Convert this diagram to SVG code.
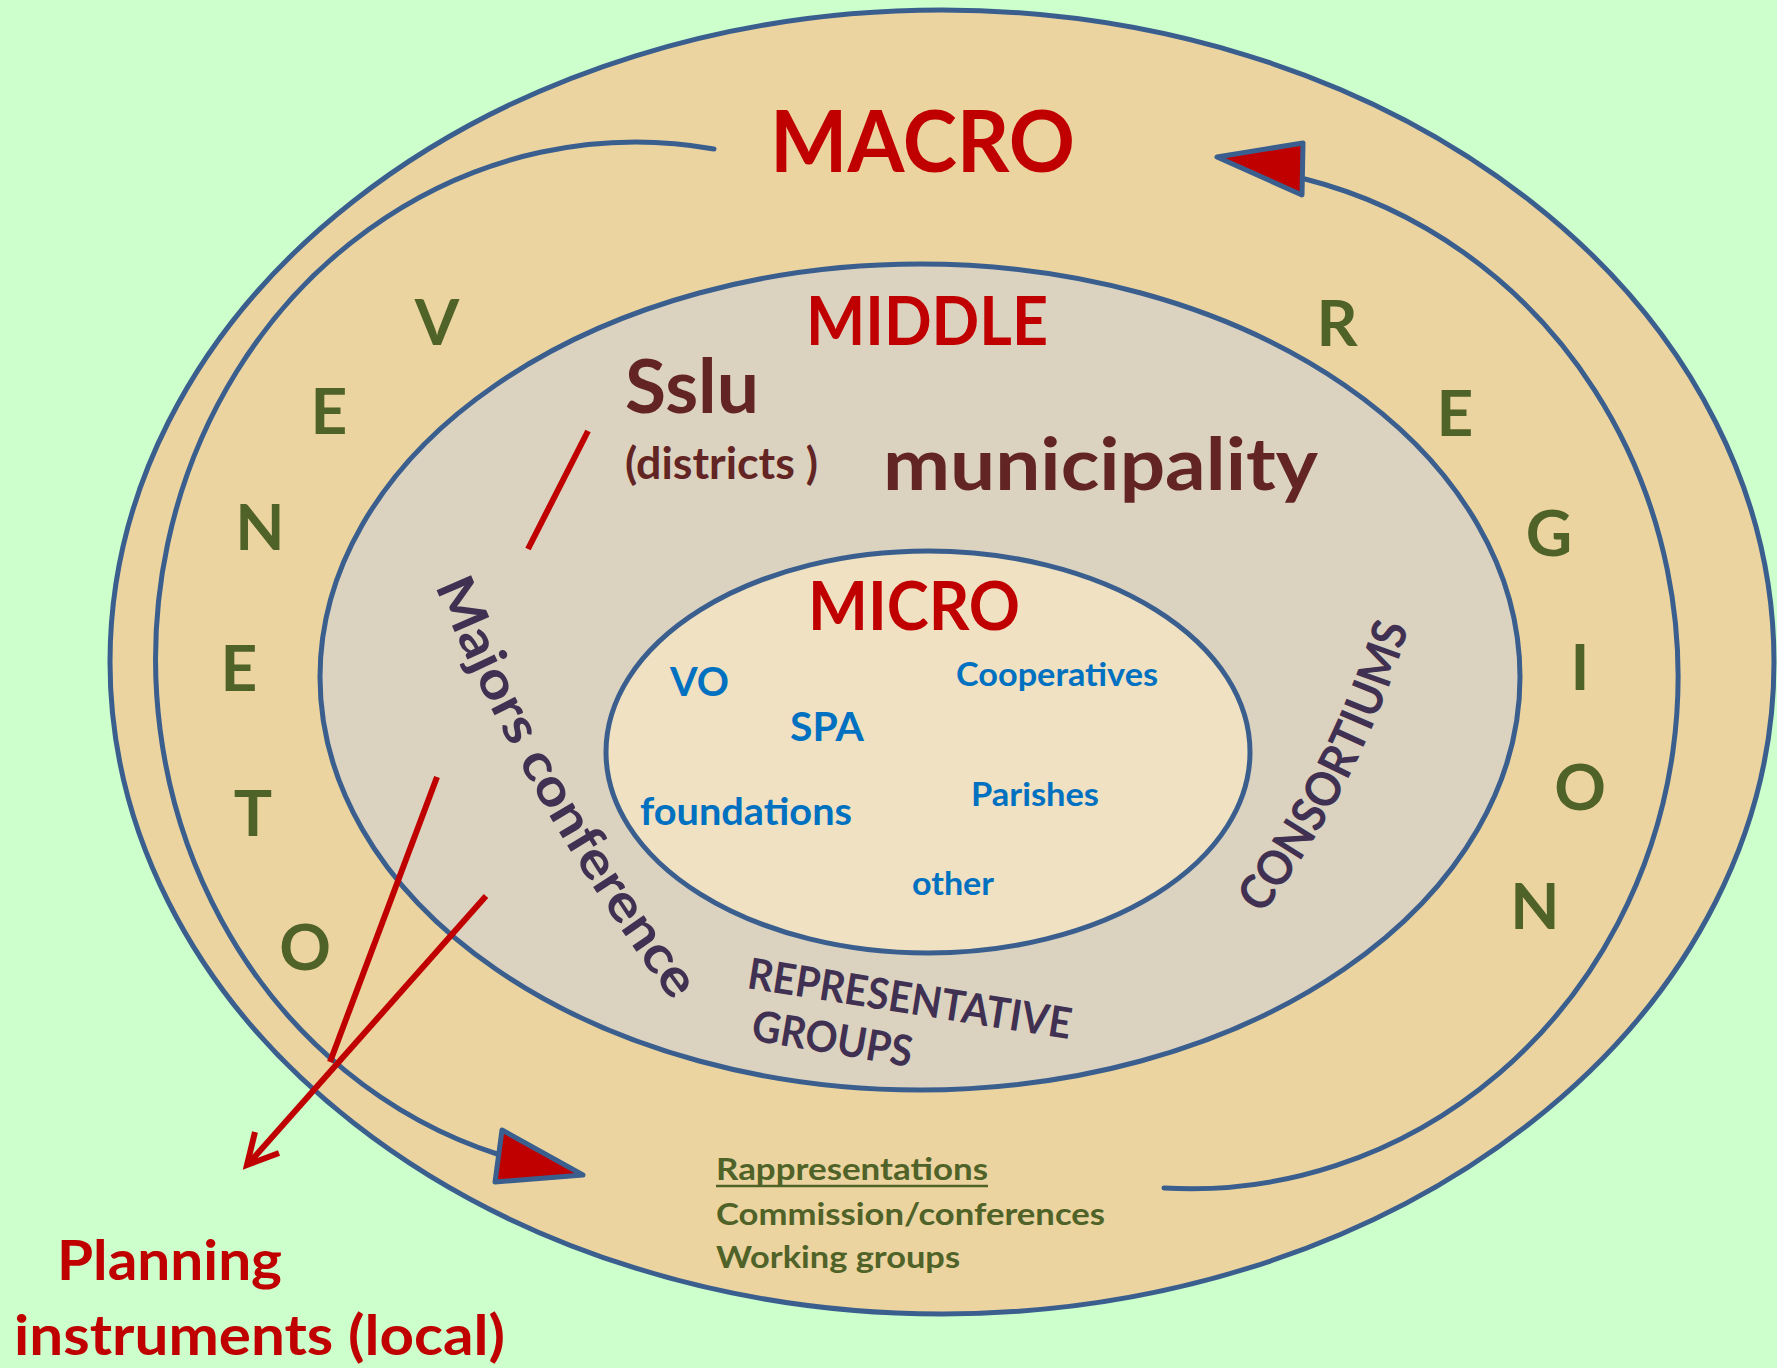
<svg xmlns="http://www.w3.org/2000/svg" width="1777" height="1368" viewBox="0 0 1777 1368">
<style>
  text { font-family: Lato, "Open Sans", "Liberation Sans", sans-serif; font-weight: bold; }
  .edge { stroke: #3a5f8e; stroke-width: 5; }
  .red { fill: #c00000; }
  .maroon { fill: #632523; }
  .blue { fill: #0070c0; }
  .purple { fill: #403152; }
  .green { fill: #4f6228; }
  .letter { font-size: 64px; text-anchor: middle; fill: #4f6228; }
  .flow { fill: none; stroke: #3a5f8e; stroke-width: 5; stroke-linecap: round; }
  .head { fill: #c00000; stroke: #3a5f8e; stroke-width: 5; stroke-linejoin: round; }
  .link { stroke: #c00000; stroke-width: 6; fill: none; stroke-linecap: butt; }
</style>
<defs>
  <path id="p-majors" d="M 435 586 Q 529 811 676 1006"/>
  <path id="p-consortiums" d="M 1262 915 Q 1363 782 1410 623"/>
</defs>
<rect x="0" y="0" width="1777" height="1368" fill="#ccffcc"/>

<g id="macro">
  <ellipse cx="942" cy="662" rx="832" ry="652" fill="#ebd49f" class="edge"/>
  <text x="770" y="172" font-size="87" class="red" textLength="305" lengthAdjust="spacingAndGlyphs">MACRO</text>
</g>

<g id="veneto">
  <text class="letter" x="437" y="345">V</text>
  <text class="letter" x="329" y="434">E</text>
  <text class="letter" x="260" y="550">N</text>
  <text class="letter" x="239" y="691">E</text>
  <text class="letter" x="253" y="836">T</text>
  <text class="letter" x="305" y="970">O</text>
</g>
<g id="region">
  <text class="letter" x="1337" y="346">R</text>
  <text class="letter" x="1455" y="436">E</text>
  <text class="letter" x="1549" y="556">G</text>
  <text class="letter" x="1580" y="690">I</text>
  <text class="letter" x="1580" y="810">O</text>
  <text class="letter" x="1535" y="929">N</text>
</g>

<g id="middle">
  <ellipse cx="920" cy="677" rx="600" ry="413" fill="#dcd2c0" class="edge"/>
  <text x="806" y="345" font-size="67" class="red" textLength="242" lengthAdjust="spacingAndGlyphs">MIDDLE</text>
</g>

<g id="sslu">
  <text x="625" y="413" font-size="74" class="maroon" textLength="134" lengthAdjust="spacingAndGlyphs">Sslu</text>
  <text x="625" y="479" font-size="43" class="maroon" textLength="193" lengthAdjust="spacingAndGlyphs">(districts )</text>
</g>
<g id="municipality">
  <text x="883" y="490" font-size="73" class="maroon" textLength="435" lengthAdjust="spacingAndGlyphs">municipality</text>
</g>

<g id="majors-conference">
  <text font-size="52" class="purple"><textPath href="#p-majors" textLength="480" lengthAdjust="spacingAndGlyphs">Majors conference</textPath></text>
</g>
<g id="consortiums">
  <text font-size="48" class="purple"><textPath href="#p-consortiums" textLength="325" lengthAdjust="spacingAndGlyphs">CONSORTIUMS</textPath></text>
</g>
<g id="representative-groups">
  <text font-size="43" class="purple" transform="translate(746 988) rotate(9)" textLength="327" lengthAdjust="spacingAndGlyphs">REPRESENTATIVE</text>
  <text font-size="43" class="purple" transform="translate(750 1040) rotate(9.6)" textLength="162" lengthAdjust="spacingAndGlyphs">GROUPS</text>
</g>

<g id="micro">
  <ellipse cx="928" cy="752" rx="322" ry="201" fill="#efe1c1" class="edge"/>
  <text x="808" y="630" font-size="66" class="red" textLength="212" lengthAdjust="spacingAndGlyphs">MICRO</text>
  <text x="670" y="696" font-size="40" class="blue" textLength="59" lengthAdjust="spacingAndGlyphs">VO</text>
  <text x="790" y="741" font-size="40" class="blue" textLength="74" lengthAdjust="spacingAndGlyphs">SPA</text>
  <text x="956" y="686" font-size="32" class="blue" textLength="202" lengthAdjust="spacingAndGlyphs">Cooperatives</text>
  <text x="971" y="806" font-size="32" class="blue" textLength="128" lengthAdjust="spacingAndGlyphs">Parishes</text>
  <text x="640" y="825" font-size="38" class="blue" textLength="212" lengthAdjust="spacingAndGlyphs">foundations</text>
  <text x="912" y="895" font-size="32" class="blue" textLength="82" lengthAdjust="spacingAndGlyphs">other</text>
</g>

<g id="participation">
  <text x="716" y="1180" font-size="31" class="green" textLength="272" lengthAdjust="spacingAndGlyphs">Rappresentations</text>
  <line x1="716" y1="1186" x2="988" y2="1186" stroke="#4f6228" stroke-width="2.5"/>
  <text x="716" y="1225" font-size="31" class="green" textLength="389" lengthAdjust="spacingAndGlyphs">Commission/conferences</text>
  <text x="716" y="1268" font-size="31" class="green" textLength="244" lengthAdjust="spacingAndGlyphs">Working groups</text>
</g>

<g id="planning-instruments">
  <text x="57" y="1280" font-size="56" class="red" textLength="225" lengthAdjust="spacingAndGlyphs">Planning</text>
  <text x="14" y="1355" font-size="56" class="red" textLength="491" lengthAdjust="spacingAndGlyphs">instruments (local)</text>
</g>

<g id="connectors">
  <path class="flow" d="M 714 149 A 480 517 0 0 0 500 1155"/>
  <polygon class="head" points="502,1130 495,1182 583,1175"/>
  <path class="flow" d="M 1164 1188 A 487 512 0 0 0 1305 179"/>
  <polygon class="head" points="1217,157 1303,143 1302,195"/>
  <line class="link" x1="588" y1="431" x2="528" y2="549"/>
  <line class="link" x1="437" y1="777" x2="330" y2="1062"/>
  <line class="link" x1="486" y1="896" x2="250" y2="1162"/>
  <polyline class="link" points="255,1132 247,1165 279,1153"/>
</g>
</svg>
